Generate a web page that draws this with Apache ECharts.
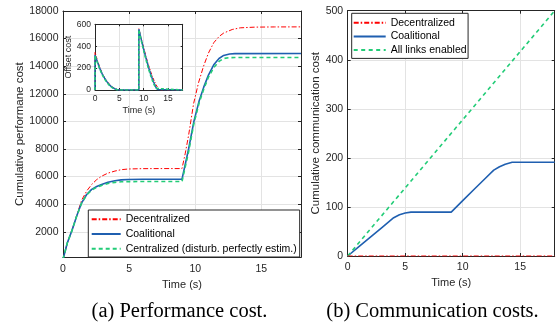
<!DOCTYPE html>
<html><head><meta charset="utf-8">
<script src="https://cdn.jsdelivr.net/npm/echarts@6/dist/echarts.min.js"></script>
<style>html,body{margin:0;padding:0;background:#fff}#c{width:556px;height:324px}</style>
</head><body><div id="c"></div>
<script>
// ---------- data ----------
const timeTicks = [0, 5, 10, 15];
const perfTicks = [2000, 4000, 6000, 8000, 10000, 12000, 14000, 16000, 18000];
const offsetTicks = [0, 200, 400, 600];
const commTicks = [0, 100, 200, 300, 400, 500];

const seriesNamesPerf = ['Decentralized', 'Coalitional', 'Centralized (disturb. perfectly estim.)'];
const seriesNamesComm = ['Decentralized', 'Coalitional', 'All links enabled'];

const perfDecentralized = [[0,0],[0.33,1200],[0.66,2050],[1.03,3150],[1.41,4290],[1.79,4950],[2.17,5430],[2.55,5780],[2.92,6030],[3.4,6250],[3.93,6400],[4.4,6500],[4.94,6550],[6,6575],[7.5,6580],[9,6580],[9.25,7700],[9.5,9000],[9.88,11300],[10.25,12800],[10.63,14000],[11,14950],[11.4,15700],[11.8,16150],[12.15,16400],[12.8,16660],[13.4,16780],[14.5,16830],[16,16845],[18,16850]];
const perfCoalitional = [[0,0],[0.33,1200],[0.66,2045],[1.03,3130],[1.41,4100],[1.79,4700],[2.17,5070],[2.55,5280],[2.92,5430],[3.4,5590],[3.93,5700],[4.4,5760],[4.94,5790],[6,5805],[9,5810],[9.5,8000],[9.9,10000],[10.3,11500],[10.65,12500],[11,13350],[11.4,14100],[11.8,14560],[12.15,14780],[12.6,14880],[13,14910],[18,14920]];
const perfCentralized = [[0,0],[0.33,1200],[0.66,2045],[1.03,3120],[1.41,4080],[1.79,4670],[2.17,5020],[2.55,5220],[2.92,5360],[3.4,5500],[3.93,5580],[4.4,5620],[4.94,5635],[6,5640],[9,5640],[9.5,7800],[9.9,9850],[10.3,11350],[10.65,12350],[11,13200],[11.4,13900],[11.8,14350],[12.15,14560],[12.6,14620],[13,14630],[18,14630]];

const offsetDecentralized = [[0,0],[0,345],[0.5,270],[1,205],[1.5,150],[2,110],[2.5,78],[3,50],[3.5,30],[4,15],[4.5,6],[5,1],[5.5,0],[9,0],[9,560],[9.5,470],[10,385],[10.5,300],[11,225],[11.5,160],[12,100],[12.5,50],[13,15],[13.3,3],[13.5,0],[18,0]];
const offsetCoalitional = [[0,0],[0,320],[0.5,255],[1,195],[1.5,145],[2,105],[2.5,72],[3,45],[3.5,25],[4,12],[4.5,4],[5,0],[9,0],[9,555],[9.5,460],[10,370],[10.5,285],[11,205],[11.5,135],[12,75],[12.5,25],[12.8,5],[13,0],[18,0]];
const offsetCentralized = [[0,0],[0,315],[0.5,250],[1,188],[1.5,138],[2,98],[2.5,66],[3,40],[3.5,22],[4,10],[4.5,3],[5,0],[9,0],[9,550],[9.5,450],[10,355],[10.5,270],[11,190],[11.5,120],[12,60],[12.5,15],[12.7,0],[18,0]];

const commDecentralized = [[0,0],[18,0]];
const commCoalitional = [[0,0],[1,19.5],[2,39],[3,58.5],[4,78],[4.5,84],[5,87.5],[5.5,89.5],[9,89.5],[10,113],[11,136],[12,159],[12.7,175],[13.2,182],[13.7,187],[14.3,191],[18,191]];
const commAllLinks = [[0,0],[18,500]];

// ---------- styling ----------
const FONT = '"Liberation Sans", Arial, Helvetica, sans-serif';
const SERIF = '"Liberation Serif", "Times New Roman", serif';
const AX = '#262626';
const GRIDC = '#e3e3e3';
const RED = '#ff0000';
const BLUE = '#1f5fb0';
const GREEN = '#22cc77';
const plain = function (v) { return String(v); };

function xAxis(grid, min, max, ticks, opts) {
  const o = opts || {};
  return {
    type: 'value', gridIndex: grid, min: min, max: max, interval: 5, position: o.top ? 'top' : 'bottom',
    z: o.z || 0,
    axisLine: {show: true, onZero: false, lineStyle: {color: AX, width: 1}},
    axisTick: {show: true, inside: true, length: o.tickLen || 3, lineStyle: {color: AX, width: 1}, customValues: ticks},
    axisLabel: {show: !o.top, color: AX, fontFamily: FONT, fontSize: o.fs || 10.5, margin: o.margin || 6, customValues: ticks, formatter: plain},
    splitLine: {show: !o.top, lineStyle: {color: GRIDC, width: 1}},
    name: o.top ? '' : (o.name || ''), nameLocation: 'middle', nameGap: o.nameGap || 19,
    nameTextStyle: {color: AX, fontFamily: FONT, fontSize: o.nfs || 11}
  };
}
function yAxis(grid, min, max, interval, ticks, opts) {
  const o = opts || {};
  return {
    type: 'value', gridIndex: grid, min: min, max: max, interval: interval, position: o.right ? 'right' : 'left',
    z: o.z || 0,
    axisLine: {show: true, onZero: false, lineStyle: {color: AX, width: 1}},
    axisTick: {show: true, inside: true, length: o.tickLen || 3, lineStyle: {color: AX, width: 1}, customValues: ticks},
    axisLabel: {show: !o.right, color: AX, fontFamily: FONT, fontSize: o.fs || 10.5, margin: o.margin || 4.5, customValues: ticks, formatter: plain},
    splitLine: {show: !o.right, lineStyle: {color: GRIDC, width: 1}},
    name: o.right ? '' : (o.name || ''), nameLocation: 'middle', nameGap: o.nameGap || 37,
    nameTextStyle: {color: AX, fontFamily: FONT, fontSize: o.nfs || 11.5}
  };
}
function line(name, xi, yi, data, color, width, type, z) {
  return {type: 'line', name: name, xAxisIndex: xi, yAxisIndex: yi, data: data, symbol: 'none',
    showSymbol: false, animation: false, z: z || 2, silent: true,
    lineStyle: {color: color, width: width, type: type}, itemStyle: {color: color}};
}

const legendBase = {
  orient: 'vertical', itemHeight: 10, backgroundColor: '#fff', borderColor: AX, borderWidth: 1, borderRadius: 0,
  selectedMode: false, itemStyle: {opacity: 0},
  textStyle: {fontFamily: FONT, fontSize: 10.5, color: '#000', lineHeight: 12}
};

const chart = echarts.init(document.getElementById('c'), null, {renderer: 'canvas'});
chart.setOption({
  animation: false,
  backgroundColor: '#fff',
  grid: [
    {left: 63, top: 11, width: 238, height: 246.3, outerBoundsMode: 'none'},
    {left: 95, top: 24.3, width: 87.7, height: 65.7, show: true, backgroundColor: '#fff', borderWidth: 0, z: 5, outerBoundsMode: 'none'},
    {left: 347.7, top: 10.7, width: 207, height: 245.3, outerBoundsMode: 'none'}
  ],
  xAxis: [
    xAxis(0, 0, 18, timeTicks, {name: 'Time (s)', nameGap: 19, margin: 6}),
    xAxis(0, 0, 18, timeTicks, {top: true}),
    xAxis(1, 0, 18, timeTicks, {name: 'Time (s)', fs: 8.5, nfs: 9, margin: 4.5, nameGap: 16, z: 6, tickLen: 2}),
    xAxis(1, 0, 18, timeTicks, {top: true, z: 6, tickLen: 2}),
    xAxis(2, 0, 18, timeTicks, {name: 'Time (s)', nameGap: 20, margin: 6}),
    xAxis(2, 0, 18, timeTicks, {top: true})
  ],
  yAxis: [
    yAxis(0, 150, 18000, 2000, perfTicks, {name: 'Cumulative performane cost', nameGap: 37}),
    yAxis(0, 150, 18000, 2000, perfTicks, {right: true}),
    yAxis(1, 0, 600, 200, offsetTicks, {name: 'Offset cost', fs: 8.5, nfs: 9, margin: 4, nameGap: 20, z: 6, tickLen: 2}),
    yAxis(1, 0, 600, 200, offsetTicks, {right: true, z: 6, tickLen: 2}),
    yAxis(2, 0, 500, 100, commTicks, {name: 'Cumulative communication cost', nameGap: 25}),
    yAxis(2, 0, 500, 100, commTicks, {right: true})
  ],
  legend: [
    Object.assign({}, legendBase, {
      data: seriesNamesPerf, left: 88.3, top: 210,
      itemWidth: 29, itemGap: 2.7, padding: [3.3, 3, 2.3, 2.4]
    }),
    Object.assign({}, legendBase, {
      data: seriesNamesComm, left: 351.7, top: 13.3,
      itemWidth: 32, itemGap: 1.7, padding: [3.4, 1.5, 2.3, 1]
    })
  ],
  series: [
    line(seriesNamesPerf[0], 0, 0, perfDecentralized, RED, 1, [5, 2, 1.5, 2]),
    line(seriesNamesPerf[1], 0, 0, perfCoalitional, BLUE, 1.6, 'solid'),
    line(seriesNamesPerf[2], 0, 0, perfCentralized, GREEN, 1.6, [4, 3]),
    line('offset-dec', 2, 2, offsetDecentralized, RED, 1, [3, 1.5, 1, 1.5], 7),
    line('offset-coal', 2, 2, offsetCoalitional, BLUE, 1.5, 'solid', 7),
    line('offset-cent', 2, 2, offsetCentralized, GREEN, 1.5, [3, 2], 7),
    line(seriesNamesComm[0], 4, 4, commDecentralized, RED, 1.2, [5, 2, 1.5, 2], 3),
    line(seriesNamesComm[1], 4, 4, commCoalitional, BLUE, 1.6, 'solid'),
    line(seriesNamesComm[2], 4, 4, commAllLinks, GREEN, 1.6, [4, 3.5])
  ],
  graphic: [
    {type: 'text', x: 179.5, y: 311.7, silent: true,
     style: {text: '(a) Performance cost.', fontFamily: SERIF, fontSize: 20.5, fill: '#000', align: 'center', verticalAlign: 'middle'}},
    {type: 'text', x: 432.5, y: 311.7, silent: true,
     style: {text: '(b) Communication costs.', fontFamily: SERIF, fontSize: 20.5, fill: '#000', align: 'center', verticalAlign: 'middle'}}
  ]
});
</script>
</body></html>
